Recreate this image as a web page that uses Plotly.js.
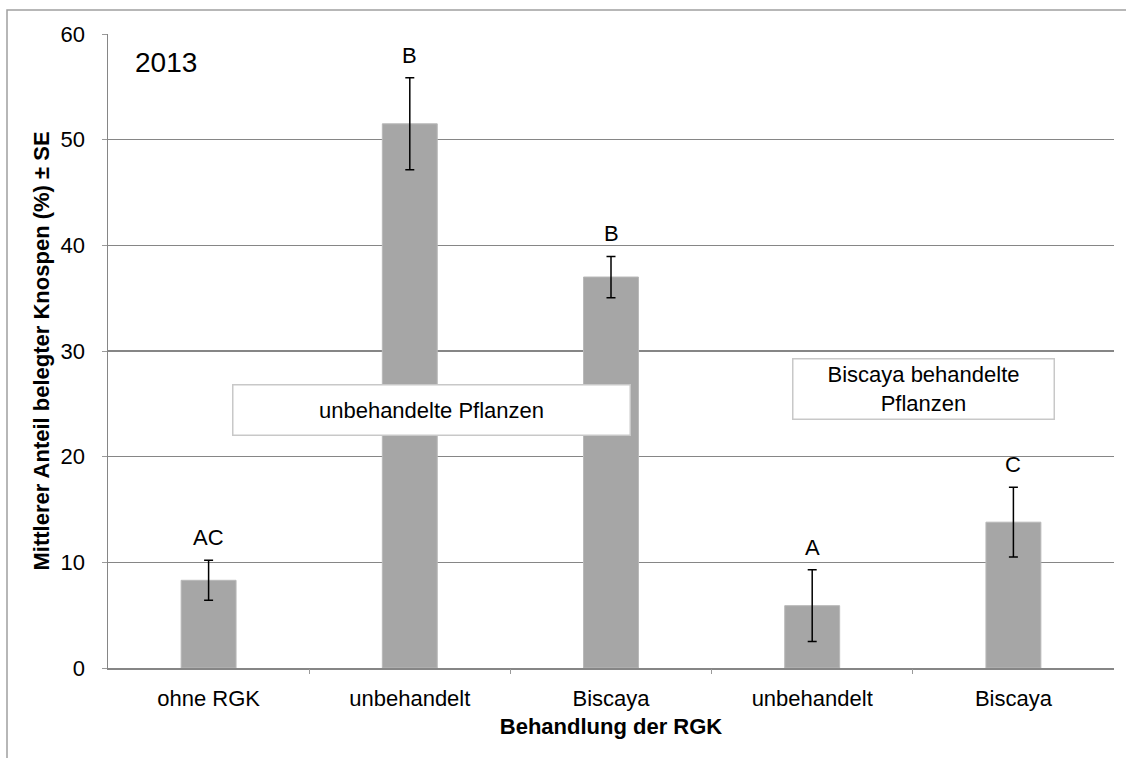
<!DOCTYPE html>
<html>
<head>
<meta charset="utf-8">
<script src="https://cdn.plot.ly/plotly-3.0.1.min.js"></script>
<style>html,body{margin:0;padding:0;background:#fff;}#chart{width:1126px;height:758px;}</style>
</head>
<body>
<div id="chart"></div>
<script>
const categories = ["ohne RGK", "unbehandelt", "Biscaya", "unbehandelt", "Biscaya"];
const means = [8.3, 51.5, 37.0, 5.9, 13.8];
const seValues = [1.9, 4.35, 1.95, 3.4, 3.3];
const letters = ["AC", "B", "B", "A", "C"];
const yearLabel = "2013";
const groupLabels = ["unbehandelte Pflanzen", "Biscaya behandelte<br>Pflanzen"];

const FONT = "Liberation Sans, Arial, sans-serif";
const xIdx = categories.map((_, i) => i);

const trace = {
  type: "bar",
  x: xIdx,
  y: means,
  marker: {color: "#a6a6a6", line: {color: "#b8b8b8", width: 1}},
  error_y: {type: "data", array: seValues, visible: true, color: "#000000", thickness: 1.5, width: 4.5},
  hoverinfo: "skip",
  showlegend: false
};

const annotations = letters.map((t, i) => ({
  x: i, y: means[i] + seValues[i], xref: "x", yref: "y",
  text: t, showarrow: false, yanchor: "bottom", yshift: 8,
  font: {family: FONT, size: 22, color: "#000"}
}));
annotations.push({
  xref: "paper", yref: "paper", x: 0.025, y: 0.955, xanchor: "left", yanchor: "middle",
  text: yearLabel, showarrow: false, font: {family: FONT, size: 28, color: "#000"}
});
annotations.push({
  xref: "x", yref: "y", x: 1.106, y: 24.41, text: groupLabels[0], showarrow: false,
  bgcolor: "#ffffff", bordercolor: "#c8c8c8", borderwidth: 1.5, borderpad: 0,
  width: 396, height: 49, font: {family: FONT, size: 22, color: "#000"}
});
annotations.push({
  xref: "x", yref: "y", x: 3.551, y: 26.44, text: groupLabels[1], showarrow: false,
  bgcolor: "#ffffff", bordercolor: "#c8c8c8", borderwidth: 1.5, borderpad: 0,
  width: 260, height: 59, font: {family: FONT, size: 22, color: "#000"}
});

const layout = {
  width: 1126, height: 758,
  margin: {l: 108, r: 12, t: 34, b: 89.5},
  paper_bgcolor: "#ffffff", plot_bgcolor: "#ffffff",
  bargap: 0.727,
  font: {family: FONT, size: 22, color: "#000"},
  xaxis: {
    range: [-0.5, 4.5], tickvals: xIdx, ticktext: categories,
    ticks: "", showgrid: false, zeroline: false,
    showline: true, linecolor: "#868686", linewidth: 1.5,
    ticklabelstandoff: 10,
    tickfont: {family: FONT, size: 22, color: "#000"},
    title: {text: "<b>Behandlung der RGK</b>", font: {family: FONT, size: 22, color: "#000"}, standoff: 8},
    fixedrange: true
  },
  xaxis2: {
    overlaying: "x", matches: "x", range: [-0.5, 4.5],
    tickvals: [0.5, 1.5, 2.5, 3.5], ticks: "outside", ticklen: 5, tickwidth: 1, tickcolor: "#9a9a9a",
    showticklabels: false, showgrid: false, zeroline: false, showline: false, side: "bottom", anchor: "y"
  },
  yaxis: {
    range: [0, 60], dtick: 10, tick0: 0,
    ticks: "outside", ticklen: 5, tickwidth: 1, tickcolor: "#9a9a9a",
    showgrid: true, gridcolor: "#868686", gridwidth: 1.5,
    zeroline: false, showline: true, linecolor: "#868686", linewidth: 1.5,
    ticklabelstandoff: 12,
    tickfont: {family: FONT, size: 22, color: "#000"},
    title: {text: "<b>Mittlerer Anteil belegter Knospen (%) ± SE</b>", font: {family: FONT, size: 22, color: "#000"}, standoff: 5},
    fixedrange: true
  },
  shapes: [{
    type: "rect", xref: "paper", yref: "paper",
    x0: -101 / 1006, x1: 1.2, y0: -0.3, y1: 1 + 24 / 634.5,
    line: {color: "#a0a0a0", width: 1.5}, fillcolor: "rgba(0,0,0,0)", layer: "below"
  }],
  annotations: annotations
};

const dummy = {type: "scatter", x: [0], y: [0], xaxis: "x2", yaxis: "y", mode: "markers", marker: {opacity: 0}, hoverinfo: "skip", showlegend: false};

Plotly.newPlot("chart", [trace, dummy], layout, {displayModeBar: false, staticPlot: true});
</script>
</body>
</html>
